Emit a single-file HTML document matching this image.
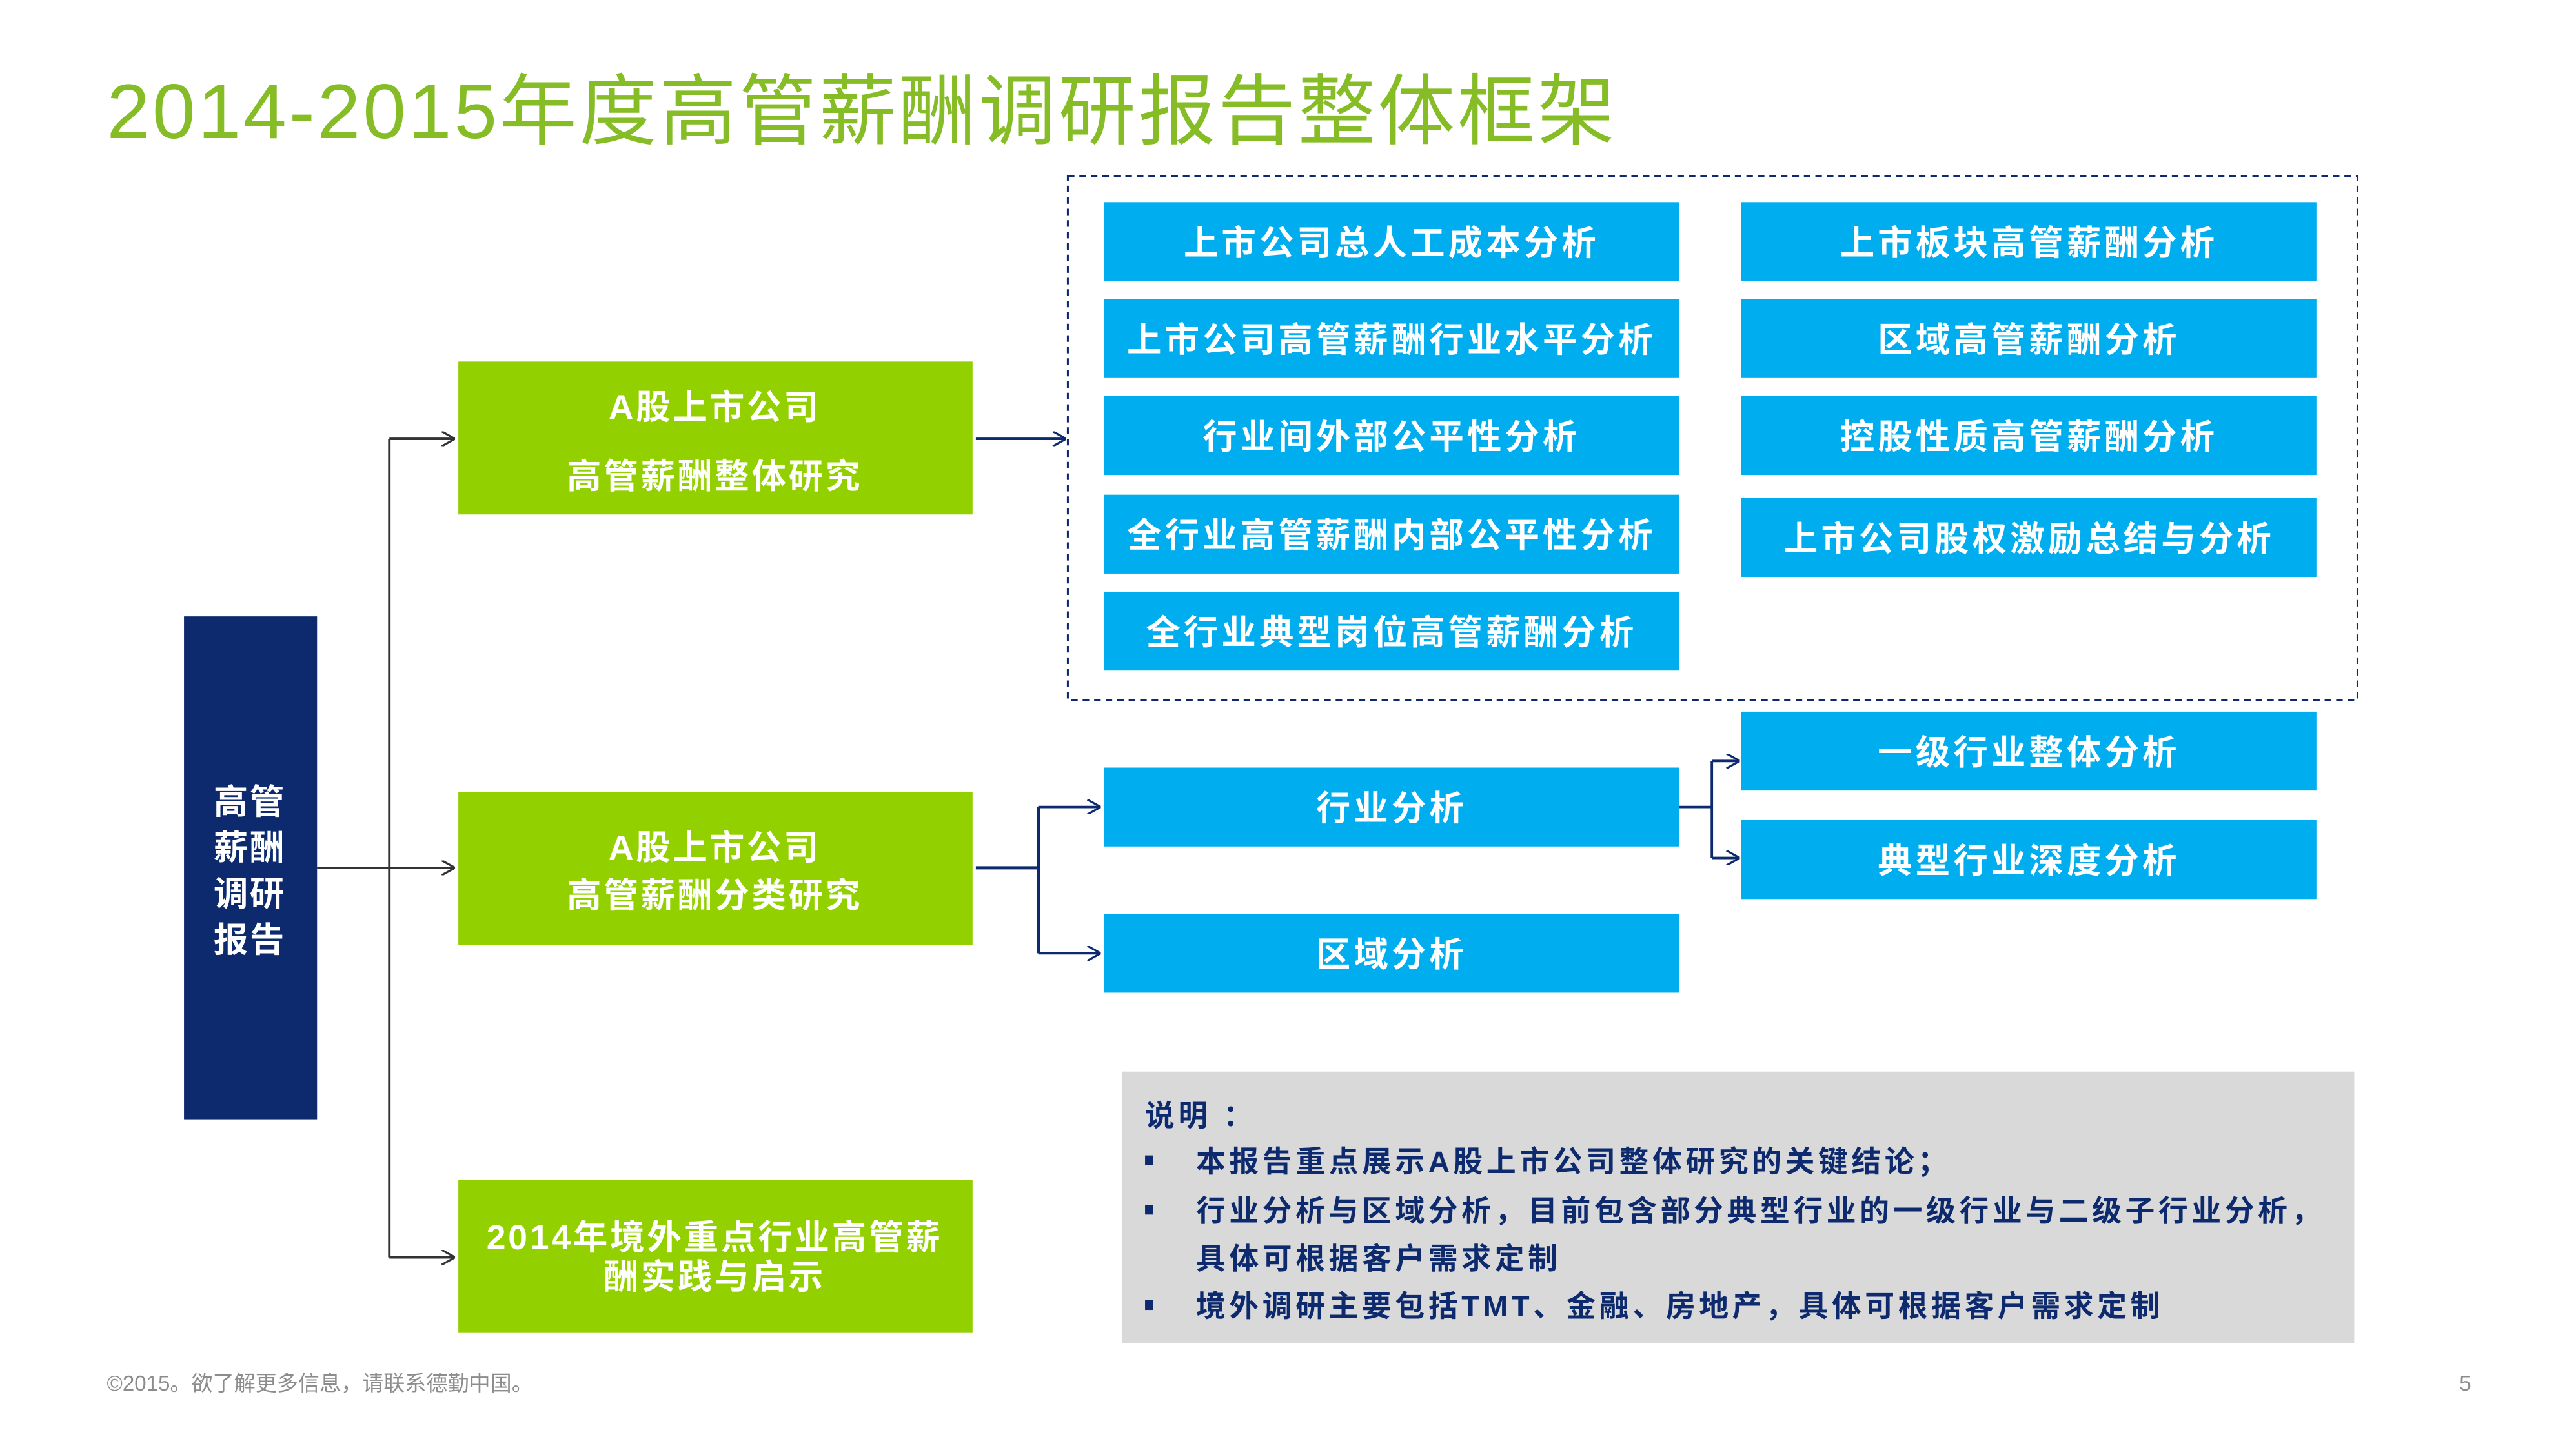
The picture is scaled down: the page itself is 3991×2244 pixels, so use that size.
<!DOCTYPE html>
<html><head><meta charset="utf-8"><style>
html,body{margin:0;padding:0;background:#fff;}
svg{display:block;}
text{font-family:"Liberation Sans","Noto Sans CJK SC",sans-serif;}
</style></head><body>
<svg width="3991" height="2244" viewBox="0 0 1568 881" preserveAspectRatio="none" xmlns="http://www.w3.org/2000/svg">
<defs>
<marker id="a" viewBox="0 0 10 10" refX="10" refY="5" markerWidth="9" markerHeight="9" markerUnits="userSpaceOnUse" orient="auto">
<path d="M1,0 L10,5 L1,10" fill="none" stroke="#333" stroke-width="1.4"/></marker>
<marker id="b" viewBox="0 0 10 10" refX="10" refY="5" markerWidth="9" markerHeight="9" markerUnits="userSpaceOnUse" orient="auto">
<path d="M1,0 L10,5 L1,10" fill="none" stroke="#0d2a6e" stroke-width="1.4"/></marker>
</defs>
<text x="65" y="84" font-size="47" fill="#86bc25" letter-spacing="1.6">2014-2015年度高管薪酬调研报告整体框架</text>

<rect x="650" y="107" width="785" height="319" fill="none" stroke="#0d2a6e" stroke-width="1.2" stroke-dasharray="4,3"/>

<g fill="#00aeef">
<rect x="672" y="123" width="350" height="48"/><rect x="672" y="182" width="350" height="48"/>
<rect x="672" y="241" width="350" height="48"/><rect x="672" y="301" width="350" height="48"/>
<rect x="672" y="360" width="350" height="48"/>
<rect x="1060" y="123" width="350" height="48"/><rect x="1060" y="182" width="350" height="48"/>
<rect x="1060" y="241" width="350" height="48"/><rect x="1060" y="303" width="350" height="48"/>
<rect x="672" y="467" width="350" height="48"/><rect x="672" y="556" width="350" height="48"/>
<rect x="1060" y="433" width="350" height="48"/><rect x="1060" y="499" width="350" height="48"/>
</g>
<g fill="#fff" font-size="21" font-weight="bold" text-anchor="middle" letter-spacing="2">
<text x="847" y="155">上市公司总人工成本分析</text>
<text x="847" y="214">上市公司高管薪酬行业水平分析</text>
<text x="847" y="273">行业间外部公平性分析</text>
<text x="847" y="333">全行业高管薪酬内部公平性分析</text>
<text x="847" y="392">全行业典型岗位高管薪酬分析</text>
<text x="1235" y="155">上市板块高管薪酬分析</text>
<text x="1235" y="214">区域高管薪酬分析</text>
<text x="1235" y="273">控股性质高管薪酬分析</text>
<text x="1235" y="335">上市公司股权激励总结与分析</text>
<text x="847" y="499">行业分析</text>
<text x="847" y="588">区域分析</text>
<text x="1235" y="465">一级行业整体分析</text>
<text x="1235" y="531">典型行业深度分析</text>
</g>

<g fill="#92d000">
<rect x="279" y="220" width="313" height="93"/>
<rect x="279" y="482" width="313" height="93"/>
<rect x="279" y="718" width="313" height="93"/>
</g>
<g fill="#fff" font-size="21" font-weight="bold" text-anchor="middle" letter-spacing="1.5">
<text x="435" y="255">A股上市公司</text>
<text x="435" y="297">高管薪酬整体研究</text>
<text x="435" y="523">A股上市公司</text>
<text x="435" y="552">高管薪酬分类研究</text>
<text x="435" y="760">2014年境外重点行业高管薪</text>
<text x="435" y="784">酬实践与启示</text>
</g>

<rect x="112" y="375" width="81" height="306" fill="#0d2a6e"/>
<g fill="#fff" font-size="21" font-weight="bold" text-anchor="middle" letter-spacing="1">
<text x="152" y="495">高管</text><text x="152" y="523">薪酬</text>
<text x="152" y="551">调研</text><text x="152" y="579">报告</text>
</g>

<g fill="none" stroke-width="1.5">
<path d="M193,528 H277" stroke="#333" marker-end="url(#a)"/>
<path d="M237,267 V765" stroke="#333"/>
<path d="M237,267 H277" stroke="#333" marker-end="url(#a)"/>
<path d="M237,765 H277" stroke="#333" marker-end="url(#a)"/>
<path d="M594,267 H649" stroke="#0d2a6e" marker-end="url(#b)"/>
<path d="M594,528 H632 M632,491 V580" stroke="#0d2a6e" stroke-width="2"/>
<path d="M632,491 H670" stroke="#0d2a6e" marker-end="url(#b)"/>
<path d="M632,580 H670" stroke="#0d2a6e" marker-end="url(#b)"/>
<path d="M1022,491 H1042 M1042,463 V522" stroke="#0d2a6e"/>
<path d="M1042,463 H1059" stroke="#0d2a6e" marker-end="url(#b)"/>
<path d="M1042,522 H1059" stroke="#0d2a6e" marker-end="url(#b)"/>
</g>

<rect x="683" y="652" width="750" height="165" fill="#d9d9d9"/>
<g fill="#0d2a6e" font-size="18" font-weight="bold" letter-spacing="2.2">
<text x="697" y="685">说明 ：</text>
<rect x="697" y="703" width="5" height="6"/>
<text x="728" y="713">本报告重点展示A股上市公司整体研究的关键结论；</text>
<rect x="697" y="733" width="5" height="6"/>
<text x="728" y="743">行业分析与区域分析，目前包含部分典型行业的一级行业与二级子行业分析，</text>
<text x="728" y="772">具体可根据客户需求定制</text>
<rect x="697" y="791" width="5" height="6"/>
<text x="728" y="801">境外调研主要包括TMT、金融、房地产，具体可根据客户需求定制</text>
</g>

<text x="65" y="846" font-size="13" fill="#8c8c8c">©2015。欲了解更多信息，请联系德勤中国。</text>
<text x="1497" y="846" font-size="13" fill="#8c8c8c">5</text>
</svg>
</body></html>
